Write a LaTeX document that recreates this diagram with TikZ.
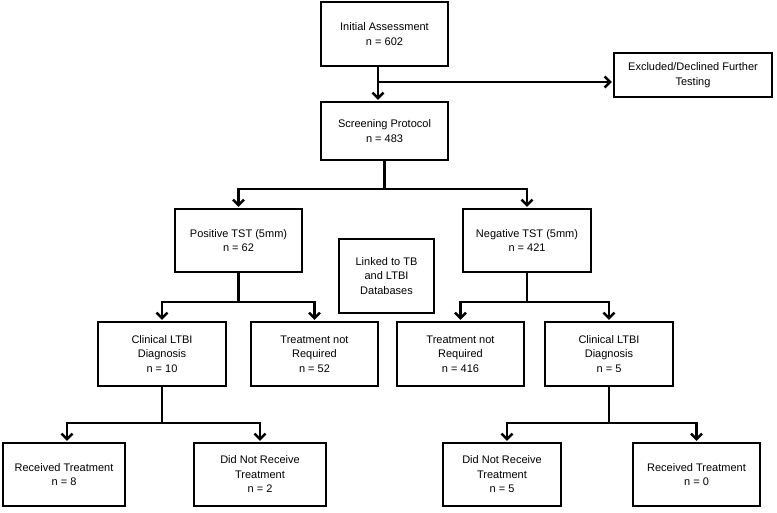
\documentclass[tikz,border=0pt]{standalone}
\usepackage{fontspec}
\setmainfont{Liberation Sans}
\usetikzlibrary{arrows.meta}

\begin{document}
\begin{tikzpicture}[x=1pt,y=-1pt,
        box/.style={draw,line width=1.3pt,align=center,inner sep=2pt,
            minimum height=63pt,font=\fontsize{11}{14.5}\selectfont},
        link/.style={line width=2.4pt},
        arr/.style={link,-{Straight Barb[length=5.5pt,width=11pt]},shorten >=1.5pt}]
        \useasboundingbox (0,0) rectangle (777,512);

        % top of the chart
        \node[box,minimum width=127pt,minimum height=64pt] (init) at (384.5,34) {Initial Assessment\\n = 602};
        \node[box,minimum width=158pt,minimum height=44pt] (excl) at (693,75) {Excluded/Declined Further\\Testing};
        \node[box,minimum width=127pt,minimum height=58pt] (screen) at (384.5,131) {Screening Protocol\\n = 483};

        % TST result
        \node[box,minimum width=127pt] (pos) at (238.5,240.5) {Positive TST (5mm)\\n = 62};
        \node[box,minimum width=128pt] (neg) at (527,240.5) {Negative TST (5mm)\\n = 421};
        \node[box,minimum width=95pt,minimum height=74pt] (linked) at (386.5,276) {Linked to TB\\and LTBI\\Databases};

        % diagnosis
        \node[box,minimum width=128pt,minimum height=64pt] (clinpos) at (162,354) {Clinical LTBI\\Diagnosis\\n = 10};
        \node[box,minimum width=127pt,minimum height=64pt] (notreqpos) at (314.5,354) {Treatment not\\Required\\n = 52};
        \node[box,minimum width=127pt,minimum height=64pt] (notreqneg) at (460.5,354) {Treatment not\\Required\\n = 416};
        \node[box,minimum width=128pt,minimum height=64pt] (clinneg) at (609,354) {Clinical LTBI\\Diagnosis\\n = 5};

        % treatment
        \node[box,minimum width=122pt] (recpos) at (64,474.5) {Received Treatment\\n = 8};
        \node[box,minimum width=132pt] (norecpos) at (260,474.5) {Did Not Receive\\Treatment\\n = 2};
        \node[box,minimum width=118pt] (norecneg) at (502,474.5) {Did Not Receive\\Treatment\\n = 5};
        \node[box,minimum width=127pt] (recneg) at (696.5,474.5) {Received Treatment\\n = 0};

        % split points
        \coordinate (excsplit) at (378,82);
        \coordinate (tstsplit) at (384.5,189);
        \coordinate (possplit) at (238.5,302);
        \coordinate (negsplit) at (527,302);
        \coordinate (clinposplit) at (162,423);
        \coordinate (clinnegsplit) at (609,423);

        % arrows
        \draw[arr] ([xshift=-6.5pt]init.south) -- ([xshift=-6.5pt]screen.north);
        \draw[arr] (excsplit) -- (excl.west |- excsplit);

        \draw[link] (screen.south) -- (tstsplit);
        \draw[arr] (tstsplit) -| (pos.north);
        \draw[arr] (tstsplit) -| (neg.north);

        \draw[link] (pos.south) -- (possplit);
        \draw[arr] (possplit) -| (clinpos.north);
        \draw[arr] (possplit) -| (notreqpos.north);
        \draw[link] (neg.south) -- (negsplit);
        \draw[arr] (negsplit) -| (notreqneg.north);
        \draw[arr] (negsplit) -| (clinneg.north);

        \draw[link] (clinpos.south) -- (clinposplit);
        \draw[arr] (clinposplit) -| ([xshift=3pt]recpos.north);
        \draw[arr] (clinposplit) -| (norecpos.north);
        \draw[link] (clinneg.south) -- (clinnegsplit);
        \draw[arr] (clinnegsplit) -| ([xshift=5pt]norecneg.north);
        \draw[arr] (clinnegsplit) -| (recneg.north);
\end{tikzpicture}
\end{document}
